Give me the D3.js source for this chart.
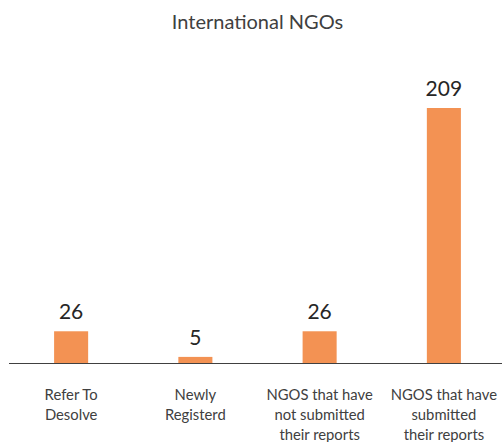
<!DOCTYPE html>
<html><head><meta charset="utf-8">
<script src="https://cdn.jsdelivr.net/npm/d3@7"></script>
<style>body{margin:0;background:#fff}svg{display:block}text{font-family:Lato,"Open Sans",sans-serif}</style>
</head><body><svg id="c" width="502" height="442"></svg>
<script>
const title = "International NGOs";
const categories = [
  ["Refer To", "Desolve"],
  ["Newly", "Registerd"],
  ["NGOS that have", "not submitted", "their reports"],
  ["NGOS that have", "submitted", "their reports"]
];
const values = [26, 5, 26, 209];

const svg = d3.select("#c");
const W = 502, H = 442;
const left = 9, right = 506, baseY = 363, topY = 108;
const x = d3.scaleBand().domain(d3.range(values.length)).range([left, right]).padding(0);
const y = d3.scaleLinear().domain([0, 209]).range([baseY, topY]);
const bw = x.bandwidth() * 0.274;

svg.append("text").attr("x", (left + right) / 2).attr("y", 28.5)
  .attr("text-anchor", "middle").attr("font-size", 20).attr("fill", "#404040").text(title);

svg.selectAll("rect.bar").data(values).join("rect").attr("class", "bar")
  .attr("x", (d, i) => x(i) + x.bandwidth() / 2 - bw / 2)
  .attr("y", d => y(d)).attr("width", bw).attr("height", d => baseY - y(d))
  .attr("fill", "#F39253");

svg.selectAll("text.val").data(values).join("text").attr("class", "val")
  .attr("x", (d, i) => x(i) + x.bandwidth() / 2).attr("y", d => y(d) - 12)
  .attr("text-anchor", "middle").attr("font-size", 21).attr("fill", "#262626").text(d => d);

svg.append("line").attr("x1", left).attr("x2", W).attr("y1", baseY + 0.5).attr("y2", baseY + 0.5)
  .attr("stroke", "#404040").attr("stroke-width", 1);

const lab = svg.selectAll("text.cat").data(categories).join("text").attr("class", "cat")
  .attr("text-anchor", "middle").attr("font-size", 14.8).attr("fill", "#404040");
lab.each(function(lines, i) {
  d3.select(this).selectAll("tspan").data(lines).join("tspan")
    .attr("x", x(i) + x.bandwidth() / 2).attr("y", (d, j) => 400 + j * 20).text(d => d);
});
</script></body></html>
